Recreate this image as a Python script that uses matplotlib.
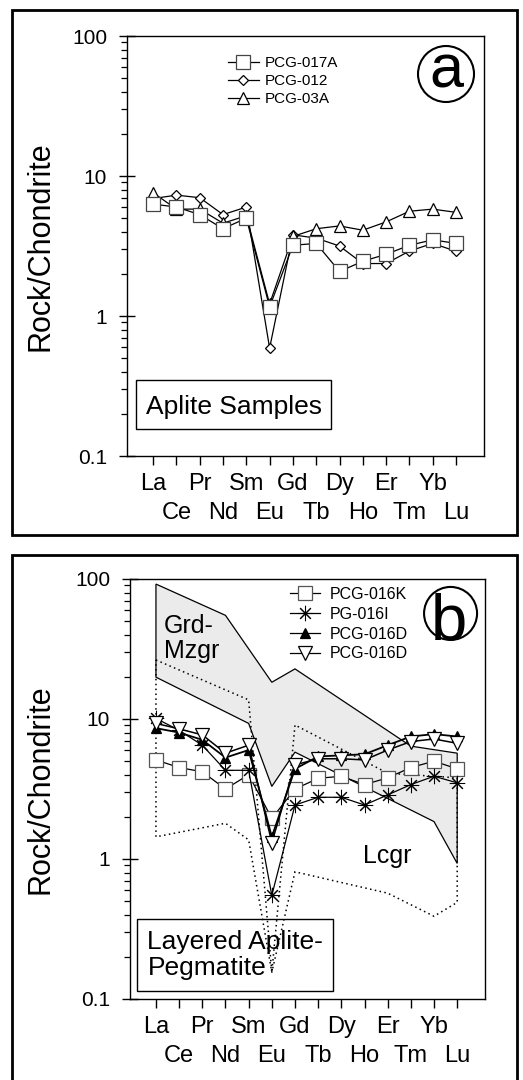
import numpy as np
import matplotlib
matplotlib.use("Agg")
import matplotlib.pyplot as plt
from matplotlib.patches import Ellipse, Rectangle, Polygon
from matplotlib.ticker import LogLocator, NullFormatter
from matplotlib.lines import Line2D
from matplotlib.transforms import blended_transform_factory

plt.rcParams['font.family'] = ['Liberation Sans', 'DejaVu Sans']

# Rare earth elements (chondrite-normalised patterns)
elements = ['La', 'Ce', 'Pr', 'Nd', 'Sm', 'Eu', 'Gd', 'Tb', 'Dy', 'Ho', 'Er', 'Tm', 'Yb', 'Lu']

# (a) aplite samples
pcg_017a = [6.3, 6.0, 5.3, 4.2, 5.0, 1.16, 3.2, 3.3, 2.08, 2.46, 2.76, 3.2, 3.5, 3.3]
pcg_012 = [6.9, 7.3, 7.0, 5.3, 6.0, 0.59, 3.8, 3.6, 3.16, 2.37, 2.37, 2.91, 3.3, 2.9]
pcg_03a = [7.6, 5.8, 5.8, 4.6, 5.2, 1.22, 3.7, 4.2, 4.4, 4.1, 4.7, 5.6, 5.8, 5.5]

# (b) layered aplite-pegmatite samples
pcg_016k = [5.1, 4.5, 4.2, 3.16, 4.0, 1.95, 3.16, 3.77, 3.9, 3.4, 3.8, 4.5, 5.0, 4.4]
pg_016i = [10.1, 8.3, 6.5, 4.3, 4.3, 0.55, 2.43, 2.76, 2.76, 2.43, 2.87, 3.4, 3.9, 3.5]
pcg_016d_filled = [8.6, 8.0, 7.1, 5.3, 6.0, 1.44, 4.4, 5.4, 5.5, 5.6, 6.5, 7.5, 7.8, 7.5]
pcg_016d_open = [9.3, 8.5, 7.7, 5.7, 6.5, 1.31, 4.7, 5.2, 5.2, 5.1, 6.0, 6.9, 7.2, 6.7]

# Granodiorite-monzogranite field (element index, value)
grd_upper_idx = [0, 3, 5, 6, 11, 13]
grd_upper = [92, 55, 18.3, 22.8, 6.4, 5.7]
grd_lower_idx = [0, 4, 5, 6, 12, 13]
grd_lower = [19.9, 9.3, 3.3, 5.8, 1.85, 0.93]

# Leucogranite field (element index, value)
lcgr_upper_idx = [0, 4, 5, 6, 10, 13]
lcgr_upper = [26.4, 13.7, 0.155, 9.06, 4.1, 3.8]
lcgr_lower_idx = [0, 3, 4, 5, 6, 10, 12, 13]
lcgr_lower = [1.44, 1.8, 1.37, 0.155, 0.81, 0.57, 0.39, 0.49]

W, H = 523, 1080
fig = plt.figure(figsize=(W / 100, H / 100), dpi=100)


def fx(px):
    return px / W


def fy(py):
    return 1 - py / H


# outer frames around each panel
fig.add_artist(Rectangle((fx(12), fy(535)), fx(505), 525 / H, transform=fig.transFigure,
                         fill=False, lw=2.0, ec='black'))
fig.add_artist(Rectangle((fx(12), fy(1082)), fx(505), 527 / H, transform=fig.transFigure,
                         fill=False, lw=2.0, ec='black'))

axA = fig.add_axes([fx(127), fy(456), fx(357), 420 / H])
axB = fig.add_axes([fx(130), fy(999), fx(355), 420 / H])

xpos = np.arange(len(elements))


def style_axes(ax):
    ax.set_yscale('log')
    ax.set_ylim(0.1, 100)
    ax.set_xlim(-1.12, 14.2)
    ax.set_yticks([0.1, 1, 10, 100])
    ax.set_yticklabels(['0.1', '1', '10', '100'])
    ax.yaxis.set_minor_locator(LogLocator(base=10, subs=np.arange(2, 10)))
    ax.yaxis.set_minor_formatter(NullFormatter())
    ax.tick_params(axis='y', which='major', direction='inout', length=11.5, width=1.0,
                   pad=8.6, labelsize=15)
    ax.tick_params(axis='y', which='minor', direction='out', length=4.3, width=0.9)
    ax.set_xticks(xpos)
    ax.set_xticklabels([])
    ax.tick_params(axis='x', which='major', direction='out', length=6.5, width=1.0)
    ax.tick_params(axis='x', which='minor', bottom=False)
    for s in ax.spines.values():
        s.set_linewidth(1.0)
    # element names in two staggered rows below the ticks
    tr = blended_transform_factory(ax.transData, ax.transAxes)
    for i, el in enumerate(elements):
        ypos = -0.081 if i % 2 == 0 else -0.150
        ax.text(xpos[i], ypos, el, transform=tr, ha='center', va='baseline',
                fontsize=17, clip_on=False)


style_axes(axA)
style_axes(axB)

fig.text(fx(41), fy(246), 'Rock/Chondrite', rotation=90, ha='center', va='center', fontsize=22)
fig.text(fx(41), fy(789), 'Rock/Chondrite', rotation=90, ha='center', va='center', fontsize=22)

# ---------------- panel (a) ----------------
lw = 0.9
sq = dict(marker='s', ms=9.5, mfc='white', mec='#444444', mew=0.9)
di = dict(marker='D', ms=5.5, mfc='white', mec='black', mew=0.9)
tu = dict(marker='^', ms=8.5, mfc='white', mec='black', mew=0.9)

axA.plot(xpos, pcg_012, color='black', lw=lw, label='PCG-012', zorder=3, **di)
axA.plot(xpos, pcg_03a, color='black', lw=lw, label='PCG-03A', zorder=3, **tu)
axA.plot(xpos, pcg_017a, color='black', lw=lw, label='PCG-017A', zorder=4, **sq)

handlesA = [Line2D([], [], color='black', lw=lw, **sq),
            Line2D([], [], color='black', lw=lw, **di),
            Line2D([], [], color='black', lw=lw, **tu)]
axA.legend(handlesA, ['PCG-017A', 'PCG-012', 'PCG-03A'], loc='upper left',
           bbox_to_anchor=(0.283, 0.952), frameon=False, borderpad=0, borderaxespad=0,
           handlelength=2.0, handletextpad=0.4, labelspacing=0.27, fontsize=11)

axA.add_patch(Rectangle((0.0252, 0.0643), 0.546, 0.1167, transform=axA.transAxes,
                        fill=False, lw=1.0, ec='black'))
axA.text(0.053, 0.1007, 'Aplite Samples', transform=axA.transAxes, ha='left',
         va='baseline', fontsize=19)

axA.add_patch(Ellipse((0.8936, 0.9095), 56 / 357, 56 / 420, transform=axA.transAxes,
                      fill=False, lw=1.5, ec='black'))
axA.text(0.8936, 0.877, 'a', transform=axA.transAxes, ha='center', va='baseline',
         fontsize=44)

# ---------------- panel (b) ----------------
# granodiorite-monzogranite field
grd_poly = list(zip(grd_upper_idx, grd_upper)) + list(zip(grd_lower_idx[::-1], grd_lower[::-1]))
axB.add_patch(Polygon(grd_poly, closed=True, fc='#ebebeb', ec='black', lw=0.9, zorder=1))

# leucogranite field (dotted outline)
lcgr_poly = list(zip(lcgr_upper_idx, lcgr_upper)) + list(zip(lcgr_lower_idx[::-1], lcgr_lower[::-1]))
axB.add_patch(Polygon(lcgr_poly, closed=True, fill=False, ec='black', lw=1.1,
                      ls=(0, (1, 2.2)), zorder=2))

sq_b = dict(marker='s', ms=9.5, mfc='white', mec='#555555', mew=0.9)
ast_b = dict(marker=(8, 2, 0), ms=11, mec='black', mew=0.75)
tf_b = dict(marker='^', ms=7, mfc='black', mec='black', mew=0.9)
to_b = dict(marker='v', ms=9.5, mfc='white', mec='black', mew=0.9)

axB.plot(xpos, pcg_016k, color='black', lw=lw, zorder=3, **sq_b)
axB.plot(xpos, pg_016i, color='black', lw=lw, zorder=3, **ast_b)
axB.plot(xpos, pcg_016d_filled, color='black', lw=1.3, zorder=4, **tf_b)
axB.plot(xpos, pcg_016d_open, color='black', lw=1.1, zorder=5, **to_b)

handlesB = [Line2D([], [], color='black', lw=lw, **sq_b),
            Line2D([], [], color='black', lw=lw, **ast_b),
            Line2D([], [], color='black', lw=lw, **tf_b),
            Line2D([], [], color='black', lw=lw, **to_b)]
axB.legend(handlesB, ['PCG-016K', 'PG-016I', 'PCG-016D', 'PCG-016D'], loc='upper left',
           bbox_to_anchor=(0.451, 0.981), frameon=False, borderpad=0, borderaxespad=0,
           handlelength=1.9, handletextpad=0.6, labelspacing=0.3, fontsize=11.5)

axB.text(0.095, 0.871, 'Grd-', transform=axB.transAxes, ha='left', va='baseline', fontsize=18)
axB.text(0.095, 0.812, 'Mzgr', transform=axB.transAxes, ha='left', va='baseline', fontsize=18)
axB.text(0.656, 0.3245, 'Lcgr', transform=axB.transAxes, ha='left', va='baseline', fontsize=18)

axB.add_patch(Rectangle((0.0197, 0.019), 0.552, 0.171, transform=axB.transAxes,
                        fill=False, lw=1.0, ec='black', zorder=1.5))
axB.text(0.049, 0.1198, 'Layered Aplite-', transform=axB.transAxes, ha='left',
         va='baseline', fontsize=19)
axB.text(0.049, 0.0571, 'Pegmatite', transform=axB.transAxes, ha='left',
         va='baseline', fontsize=19)

axB.add_patch(Ellipse((0.903, 0.918), 53 / 355, 53 / 420, transform=axB.transAxes,
                      fill=False, lw=1.5, ec='black'))
axB.text(0.8986, 0.857, 'b', transform=axB.transAxes, ha='center', va='baseline',
         fontsize=47)

fig.savefig('out.png', dpi=100)
